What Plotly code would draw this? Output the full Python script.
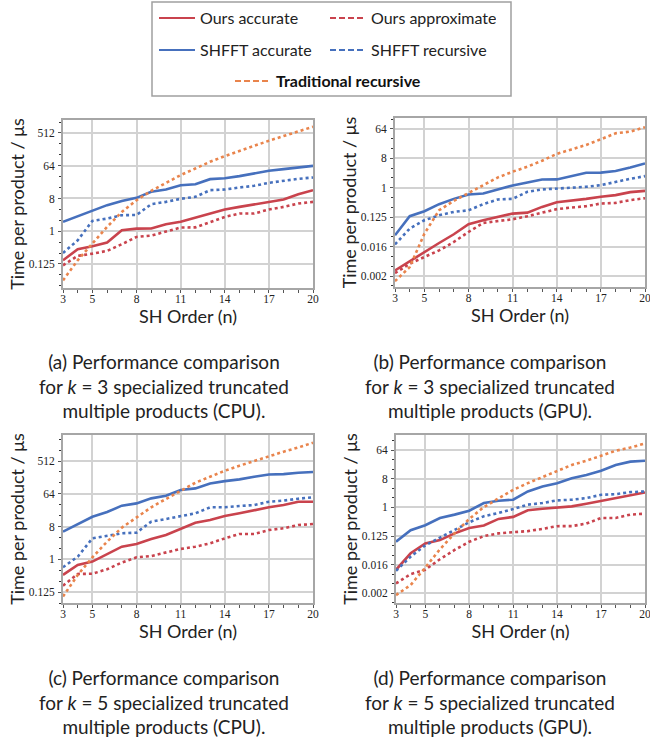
import plotly.graph_objects as go

W, H = 650, 744


def px(x):
    return x / W


def py(y):
    return 1 - y / H


# ---------------- data (time per product in microseconds) ----------------
orders = list(range(3, 21))
x_tickvals = [3, 5, 8, 11, 14, 17, 20]

# (a) k = 3, CPU
a_ours_acc = [0.158, 0.319, 0.384, 0.486, 1.064, 1.18, 1.19, 1.558, 1.815, 2.378, 3.07, 3.97, 4.69, 5.46, 6.45, 7.52, 10.48, 13.55]
a_ours_apx = [0.115, 0.209, 0.241, 0.287, 0.438, 0.697, 0.758, 1.0, 1.266, 1.28, 1.815, 2.48, 3.07, 3.08, 3.97, 4.69, 5.82, 6.45]
a_shfft_acc = [1.815, 2.60, 3.66, 5.24, 6.87, 8.34, 12.2, 14.1, 18.6, 19.8, 27.3, 29.0, 33.1, 39.1, 46.5, 51.6, 57.3, 63.6]
a_shfft_rec = [0.252, 0.563, 1.932, 2.23, 2.77, 2.80, 5.58, 6.45, 7.84, 8.88, 13.55, 14.1, 16.1, 17.9, 21.6, 24.6, 27.9, 30.3]
a_trad_rec = [0.0442, 0.158, 0.457, 1.32, 3.41, 7.16, 13.0, 21.6, 35.3, 53.8, 82.1, 117.8, 165.5, 227.6, 313, 421.7, 552.6, 760]

# (b) k = 3, GPU
b_ours_acc = [0.0029, 0.00564, 0.01067, 0.0202, 0.0374, 0.0759, 0.1008, 0.1276, 0.1615, 0.173, 0.259, 0.361, 0.398, 0.457, 0.528, 0.595, 0.737, 0.807]
b_ours_apx = [0.0024, 0.00465, 0.00749, 0.012, 0.0217, 0.044, 0.0836, 0.0961, 0.108, 0.134, 0.17, 0.221, 0.248, 0.272, 0.33, 0.344, 0.418, 0.48]
b_shfft_acc = [0.0347, 0.134, 0.191, 0.314, 0.457, 0.624, 0.669, 0.889, 1.181, 1.464, 1.803, 1.81, 2.28, 2.91, 2.92, 3.27, 4.23, 5.62]
b_shfft_rec = [0.0183, 0.0559, 0.1008, 0.1436, 0.182, 0.204, 0.314, 0.438, 0.457, 0.753, 0.889, 0.933, 1.021, 1.072, 1.206, 1.526, 1.892, 2.28]
b_trad_rec = [0.00136, 0.00367, 0.039, 0.204, 0.398, 0.702, 1.206, 2.085, 3.12, 4.44, 6.77, 10.93, 15.1, 20.7, 30.9, 47.2, 53.1, 72.5]

# (c) k = 5, CPU
c_ours_acc = [0.371, 0.697, 0.865, 1.404, 2.23, 2.64, 3.63, 4.69, 6.82, 10.2, 12.1, 15.6, 18.5, 22.8, 27.1, 31.3, 38.6, 38.6]
c_ours_apx = [0.188, 0.395, 0.40, 0.533, 0.812, 1.133, 1.231, 1.526, 1.932, 2.23, 2.75, 3.78, 4.99, 5.0, 6.41, 7.16, 8.81, 9.38]
c_shfft_acc = [5.78, 9.38, 14.9, 20.1, 30.1, 34.8, 47.8, 56.5, 81.0, 89.9, 123.6, 143.0, 159.8, 188.7, 218.3, 222.9, 243.9, 254.2]
c_shfft_rec = [0.603, 1.181, 3.78, 4.47, 5.21, 5.43, 10.93, 12.9, 15.6, 18.5, 27.1, 27.2, 29.4, 31.3, 38.6, 41.4, 46.9, 50.9]
c_trad_rec = [0.0941, 0.371, 1.133, 3.07, 7.46, 14.3, 27.1, 45.9, 77.7, 128.9, 188.7, 276.3, 380, 519, 700, 923, 1209, 1629]

# (d) k = 5, GPU
d_ours_acc = [0.01075, 0.0357, 0.0733, 0.0928, 0.151, 0.225, 0.268, 0.432, 0.5, 0.807, 0.908, 1.0, 1.072, 1.301, 1.613, 1.959, 2.48, 2.95]
d_ours_apx = [0.00402, 0.00787, 0.01082, 0.0232, 0.0454, 0.0825, 0.124, 0.151, 0.165, 0.178, 0.21, 0.255, 0.256, 0.308, 0.463, 0.464, 0.59, 0.633]
d_shfft_acc = [0.0825, 0.191, 0.274, 0.463, 0.59, 0.785, 1.366, 1.613, 1.741, 3.16, 4.53, 5.78, 8.23, 10.5, 14.3, 21.6, 27.5, 29.4]
d_shfft_rec = [0.01003, 0.028, 0.0635, 0.11, 0.191, 0.339, 0.525, 0.664, 0.889, 1.214, 1.366, 1.659, 1.741, 1.959, 2.48, 2.6, 3.01, 3.16]
d_trad_rec = [0.00172, 0.00357, 0.0127, 0.0477, 0.151, 0.432, 1.021, 1.959, 3.56, 5.78, 8.88, 13.4, 21.6, 29.4, 41.1, 60.6, 76.6, 102.6]

series_names = ["Ours accurate", "Ours approximate", "SHFFT accurate",
                "SHFFT recursive", "Traditional recursive"]

cpu_tickvals = [0.125, 1, 8, 64, 512]
cpu_ticktext = ["0.125", "1", "8", "64", "512"]
gpu_tickvals = [2 ** -9, 2 ** -6, 2 ** -3, 1, 8, 64]
gpu_ticktext = ["0.002", "0.016", "0.125", "1", "8", "64"]

captions = [
    "(a) Performance comparison<br>for <i>k</i> = 3 specialized truncated<br>multiple products (CPU).",
    "(b) Performance comparison<br>for <i>k</i> = 3 specialized truncated<br>multiple products (GPU).",
    "(c) Performance comparison<br>for <i>k</i> = 5 specialized truncated<br>multiple products (CPU).",
    "(d) Performance comparison<br>for <i>k</i> = 5 specialized truncated<br>multiple products (GPU).",
]

# ---------------- styling ----------------
RED = "#c9434d"
BLUE = "#4670bd"
ORANGE = "#e9844c"
colors = [RED, RED, BLUE, BLUE, ORANGE]
plot_dash = ["solid", "3px,3px", "solid", "3px,3px", "3px,3px"]
legend_dash = ["solid", "6px,3px", "solid", "6px,3px", "6px,3px"]
legend_ids = ["legend", "legend", "legend2", "legend2", "legend3"]

SANS = "Lato, 'Open Sans', sans-serif"
SERIF = "'Liberation Serif', 'DejaVu Serif', serif"
GRID = "#d2d2d2"
FRAME = "#a6a6a6"

panels = [
    dict(data=[a_ours_acc, a_ours_apx, a_shfft_acc, a_shfft_rec, a_trad_rec],
         box=(63, 313, 120, 288), ylog2=(-5.20, 10.19), tv=cpu_tickvals, tt=cpu_ticktext,
         cap=(164, 386)),
    dict(data=[b_ours_acc, b_ours_apx, b_shfft_acc, b_shfft_rec, b_trad_rec],
         box=(395, 645, 118, 287), ylog2=(-10.12, 7.12), tv=gpu_tickvals, tt=gpu_ticktext,
         cap=(490, 386)),
    dict(data=[c_ours_acc, c_ours_apx, c_shfft_acc, c_shfft_rec, c_trad_rec],
         box=(63, 313, 435, 603), ylog2=(-4.0, 11.38), tv=cpu_tickvals, tt=cpu_ticktext,
         cap=(164, 702)),
    dict(data=[d_ours_acc, d_ours_apx, d_shfft_acc, d_shfft_rec, d_trad_rec],
         box=(396, 645, 435, 603), ylog2=(-10.01, 7.57), tv=gpu_tickvals, tt=gpu_ticktext,
         cap=(490, 702)),
]

minor_y = [2.0 ** k for k in range(-12, 13)]
LOG10_2 = 0.30102999566

fig = go.Figure()
layout = dict(
    width=W, height=H,
    margin=dict(l=0, r=0, t=0, b=0),
    paper_bgcolor="white", plot_bgcolor="white",
    font=dict(family=SANS, color="#222222"),
    showlegend=True,
    annotations=[], shapes=[],
)

for i, p in enumerate(panels):
    n = i + 1
    xa = "x" if n == 1 else f"x{n}"
    ya = "y" if n == 1 else f"y{n}"
    for j, name in enumerate(series_names):
        fig.add_trace(go.Scatter(
            x=orders, y=p["data"][j], mode="lines", name=name,
            line=dict(color=colors[j], width=2.6, dash=plot_dash[j]),
            xaxis=xa, yaxis=ya, showlegend=False, hoverinfo="x+y+name",
        ))
    x0, x1, y0, y1 = p["box"]
    axis_common = dict(
        showline=True, linecolor=FRAME, linewidth=2, mirror=True,
        showgrid=True, gridcolor=GRID, gridwidth=2,
        zeroline=False, automargin=False, ticklabeloverflow="allow",
        ticks="outside", ticklen=3, tickcolor="#555555", tickwidth=1,
        tickfont=dict(family=SERIF, size=11.5, color="#222222"),
    )
    layout["xaxis" if n == 1 else f"xaxis{n}"] = dict(
        axis_common,
        domain=[px(x0), px(x1)], anchor=ya,
        range=[3, 20], tickmode="array", tickvals=x_tickvals,
        minor=dict(tickmode="array", tickvals=orders, ticks="outside",
                   ticklen=3, tickcolor="#555555", showgrid=False),
        ticklabelstandoff=-4,
        title=dict(text="SH Order (n)", font=dict(family=SANS, size=18, color="#222222"),
                   standoff=6),
    )
    layout["yaxis" if n == 1 else f"yaxis{n}"] = dict(
        axis_common,
        domain=[py(y1), py(y0)], anchor=xa, type="log",
        range=[p["ylog2"][0] * LOG10_2, p["ylog2"][1] * LOG10_2],
        tickmode="array", tickvals=p["tv"], ticktext=p["tt"],
        minor=dict(tickmode="array", tickvals=minor_y, ticks="outside",
                   ticklen=2, tickcolor="#333333", showgrid=False),
        ticklabelstandoff=1,
        title=dict(text="Time per product / μs", font=dict(family=SANS, size=18, color="#222222"),
                   standoff=0),
    )
    cx, cy = p["cap"]
    layout["annotations"].append(dict(
        text=captions[i], xref="paper", yref="paper", x=px(cx), y=py(cy),
        xanchor="center", yanchor="middle", align="center", showarrow=False,
        font=dict(family=SANS, size=19, color="#222222"),
    ))

# legend-only entries (dashed swatches like the reference)
for j, name in enumerate(series_names):
    fig.add_trace(go.Scatter(
        x=[None], y=[None], mode="lines", name=name,
        line=dict(color=colors[j], width=2, dash=legend_dash[j]),
        legend=legend_ids[j], showlegend=True, xaxis="x", yaxis="y",
    ))

leg_common = dict(orientation="h", bgcolor="rgba(0,0,0,0)", borderwidth=0,
                  xanchor="left", yanchor="middle", entrywidthmode="pixels",
                  font=dict(family=SANS, size=16, color="#222222"),
                  tracegroupgap=0, itemwidth=36)
layout["legend"] = dict(leg_common, x=px(154), y=py(18), entrywidth=120)
layout["legend2"] = dict(leg_common, x=px(154), y=py(50), entrywidth=120)
layout["legend3"] = dict(leg_common, x=px(230), y=py(81),
                         font=dict(family=SANS, size=16, color="#111111", weight=700))

layout["shapes"].append(dict(
    type="rect", xref="paper", yref="paper",
    x0=px(152), x1=px(511), y0=py(96), y1=py(2),
    line=dict(color="#a0a0a0", width=1.5), fillcolor="rgba(0,0,0,0)", layer="above",
))

fig.update_layout(**layout)
fig.write_html(
    "out.html",
    config={"displayModeBar": False},
    post_script="document.body.style.margin='0';document.body.style.padding='0';",
)
